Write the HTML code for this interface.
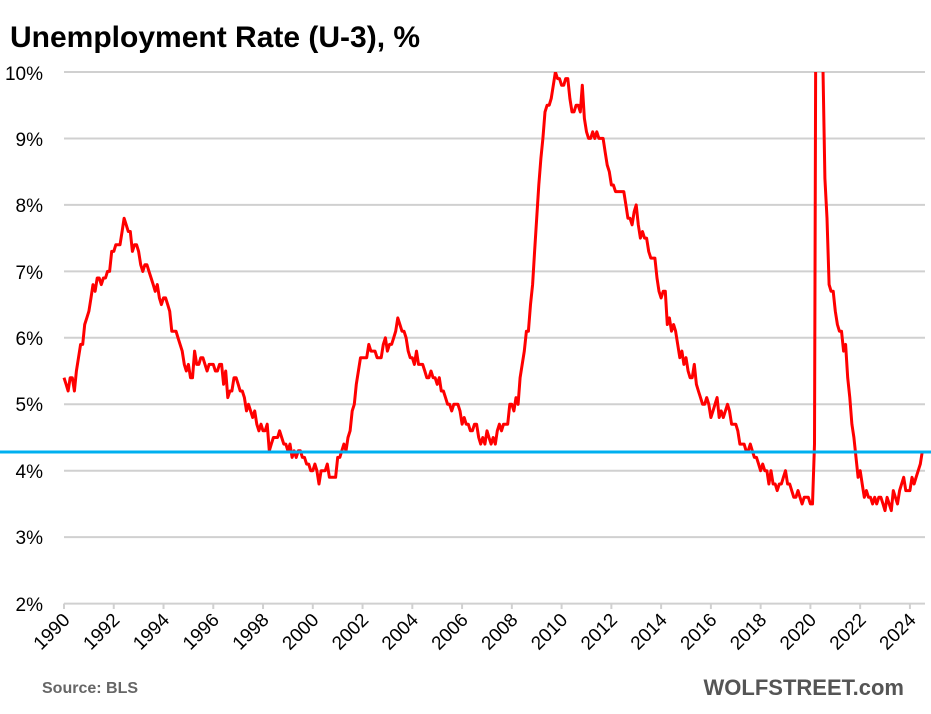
<!DOCTYPE html>
<html><head><meta charset="utf-8"><style>
html,body{margin:0;padding:0;background:#fff;width:931px;height:714px;overflow:hidden}
svg{display:block}
</style></head><body>
<svg id="s" width="931" height="714" xmlns="http://www.w3.org/2000/svg" font-family="Liberation Sans, sans-serif">
<text x="10" y="47" font-size="30" font-weight="bold" fill="#000">Unemployment Rate (U-3), %</text>
<g id="grid" stroke="#d0d0d0" stroke-width="2"></g>
<g font-size="19" fill="#000" text-anchor="end">
<text x="43" y="80">10%</text><text x="43" y="146">9%</text><text x="43" y="212">8%</text><text x="43" y="279">7%</text><text x="43" y="345">6%</text><text x="43" y="411">5%</text><text x="43" y="478">4%</text><text x="43" y="544">3%</text><text x="43" y="611">2%</text>
</g>
<g id="xl" font-size="19" fill="#000" text-anchor="end"></g>
<path id="ln" fill="none" stroke="#ff0000" stroke-width="3" stroke-linejoin="round" clip-path="url(#c)"/>
<clipPath id="c"><rect x="60" y="72" width="870" height="540"/></clipPath>
<line x1="0" y1="452" x2="931" y2="452" stroke="#00b0f0" stroke-width="3"/>
<text x="42" y="693" font-size="16" font-weight="bold" fill="#666">Source: BLS</text>
<text x="904" y="695" font-size="22" font-weight="bold" fill="#555" text-anchor="end">WOLFSTREET.com</text>
</svg>
<script>
var Y=function(v){return 603.6-(v-2)*66.45;};
var X=function(t){return 64+t*24.88;};
var g=document.getElementById('grid'),ns='http://www.w3.org/2000/svg';
for(var v=2;v<=10;v++){var l=document.createElementNS(ns,'line');l.setAttribute('x1',64);l.setAttribute('x2',925);l.setAttribute('y1',Y(v));l.setAttribute('y2',Y(v));g.appendChild(l);}
for(var y=0;y<=34;y+=2){var l=document.createElementNS(ns,'line');l.setAttribute('x1',X(y));l.setAttribute('x2',X(y));l.setAttribute('y1',603.6);l.setAttribute('y2',609);g.appendChild(l);}
var xl=document.getElementById('xl');
for(var y=0;y<=34;y+=2){var t=document.createElementNS(ns,'text');var x=X(y)+7,yy=621;t.setAttribute('transform','translate('+x+','+yy+') rotate(-45)');t.textContent=(1990+y);xl.appendChild(t);}
var d=[5.4,5.3,5.2,5.4,5.4,5.2,5.5,5.7,5.9,5.9,6.2,6.3,
6.4,6.6,6.8,6.7,6.9,6.9,6.8,6.9,6.9,7.0,7.0,7.3,
7.3,7.4,7.4,7.4,7.6,7.8,7.7,7.6,7.6,7.3,7.4,7.4,
7.3,7.1,7.0,7.1,7.1,7.0,6.9,6.8,6.7,6.8,6.6,6.5,
6.6,6.6,6.5,6.4,6.1,6.1,6.1,6.0,5.9,5.8,5.6,5.5,
5.6,5.4,5.4,5.8,5.6,5.6,5.7,5.7,5.6,5.5,5.6,5.6,
5.6,5.5,5.5,5.6,5.6,5.3,5.5,5.1,5.2,5.2,5.4,5.4,
5.3,5.2,5.2,5.1,4.9,5.0,4.9,4.8,4.9,4.7,4.6,4.7,
4.6,4.6,4.7,4.3,4.4,4.5,4.5,4.5,4.6,4.5,4.4,4.4,
4.3,4.4,4.2,4.3,4.2,4.3,4.3,4.2,4.2,4.1,4.1,4.0,
4.0,4.1,4.0,3.8,4.0,4.0,4.0,4.1,3.9,3.9,3.9,3.9,
4.2,4.2,4.3,4.4,4.3,4.5,4.6,4.9,5.0,5.3,5.5,5.7,
5.7,5.7,5.7,5.9,5.8,5.8,5.8,5.7,5.7,5.7,5.9,6.0,
5.8,5.9,5.9,6.0,6.1,6.3,6.2,6.1,6.1,6.0,5.8,5.7,
5.7,5.6,5.8,5.6,5.6,5.6,5.5,5.4,5.4,5.5,5.4,5.4,
5.3,5.4,5.2,5.2,5.1,5.0,5.0,4.9,5.0,5.0,5.0,4.9,
4.7,4.8,4.7,4.7,4.6,4.6,4.7,4.7,4.5,4.4,4.5,4.4,
4.6,4.5,4.4,4.5,4.4,4.6,4.7,4.6,4.7,4.7,4.7,5.0,
5.0,4.9,5.1,5.0,5.4,5.6,5.8,6.1,6.1,6.5,6.8,7.3,
7.8,8.3,8.7,9.0,9.4,9.5,9.5,9.6,9.8,10.0,9.9,9.9,
9.8,9.8,9.9,9.9,9.6,9.4,9.4,9.5,9.5,9.4,9.8,9.3,
9.1,9.0,9.0,9.1,9.0,9.1,9.0,9.0,9.0,8.8,8.6,8.5,
8.3,8.3,8.2,8.2,8.2,8.2,8.2,8.0,7.8,7.8,7.7,7.9,
8.0,7.7,7.5,7.6,7.5,7.5,7.3,7.2,7.2,7.2,6.9,6.7,
6.6,6.7,6.7,6.2,6.3,6.1,6.2,6.1,5.9,5.7,5.8,5.6,
5.7,5.5,5.4,5.4,5.6,5.3,5.2,5.1,5.0,5.0,5.1,5.0,
4.8,4.9,5.0,5.1,4.8,4.9,4.8,4.9,5.0,4.9,4.7,4.7,
4.7,4.6,4.4,4.4,4.4,4.3,4.3,4.4,4.3,4.2,4.2,4.1,
4.0,4.1,4.0,4.0,3.8,4.0,3.8,3.8,3.7,3.8,3.8,3.9,
4.0,3.8,3.8,3.7,3.6,3.6,3.7,3.6,3.5,3.6,3.6,3.6,
3.5,3.5,4.4,14.8,13.2,11.0,10.2,8.4,7.8,6.8,6.7,6.7,
6.4,6.2,6.1,6.1,5.8,5.9,5.4,5.1,4.7,4.5,4.2,3.9,
4.0,3.8,3.6,3.7,3.6,3.6,3.5,3.6,3.5,3.6,3.6,3.5,
3.4,3.6,3.5,3.4,3.7,3.6,3.5,3.7,3.8,3.9,3.7,3.7,
3.7,3.9,3.8,3.9,4.0,4.1,4.3];
var p='';for(var i=0;i<d.length;i++){p+=(i?'L':'M')+X(i/12).toFixed(1)+','+Y(d[i]).toFixed(1);}
document.getElementById('ln').setAttribute('d',p);
</script>
</body></html>
